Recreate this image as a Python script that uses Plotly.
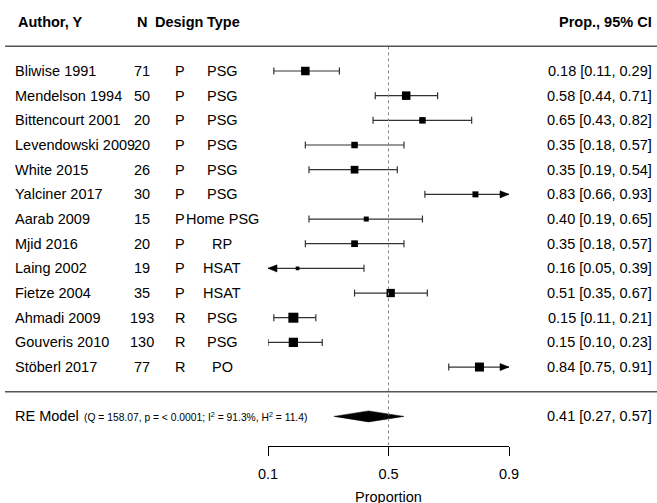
import numpy as np
import plotly.graph_objects as go

# ---------------- data ----------------
authors = ["Bliwise 1991", "Mendelson 1994", "Bittencourt 2001", "Levendowski 2009",
           "White 2015", "Yalciner 2017", "Aarab 2009", "Mjid 2016", "Laing 2002",
           "Fietze 2004", "Ahmadi 2009", "Gouveris 2010", "Stöberl 2017"]
n_sizes = [71, 50, 20, 20, 26, 30, 15, 20, 19, 35, 193, 130, 77]
designs = ["P"] * 10 + ["R"] * 3
types = ["PSG", "PSG", "PSG", "PSG", "PSG", "PSG", "Home PSG", "RP", "HSAT", "HSAT",
         "PSG", "PSG", "PO"]
est = [0.18, 0.58, 0.65, 0.35, 0.35, 0.83, 0.40, 0.35, 0.16, 0.51, 0.15, 0.15, 0.84]
ci_lo = [0.11, 0.44, 0.43, 0.18, 0.19, 0.66, 0.19, 0.18, 0.05, 0.35, 0.11, 0.10, 0.75]
ci_hi = [0.29, 0.71, 0.82, 0.57, 0.54, 0.93, 0.65, 0.57, 0.39, 0.67, 0.21, 0.23, 0.91]
re_est, re_lo, re_hi = 0.41, 0.27, 0.57
re_stats = "(Q = 158.07, p = < 0.0001; I<sup>2</sup> = 91.3%, H<sup>2</sup> = 11.4)"
tick_vals = [0.1, 0.5, 0.9]
tick_text = ["0.1", "0.5", "0.9"]

# ---------------- styles ----------------
marker_px = [8.5, 8.5, 6.5, 6.5, 7.7, 6, 5, 6.7, 3.7, 8.3, 10, 9.3, 9]
W, H = 657, 503
FONT = "Liberation Sans, Arial, Helvetica, sans-serif"
FS = 14.5


def logit(p):
    p = np.asarray(p, dtype=float)
    return np.log(p / (1 - p))


def px_x(px):
    return px / W


def px_y(py):
    return 1 - py / H


xmin, xmax = float(logit(tick_vals[0])), float(logit(tick_vals[-1]))
k = len(authors)
rows = [k - i for i in range(k)]          # 13 .. 1
row_px = 24.67
y_bottom = -2.2
y_top = k + 71 / row_px
y_range = [y_bottom, y_top]

x_dom = [px_x(268), px_x(509)]
y_dom = [px_y(446), 1.0]
px_per_x = (509 - 268) / (xmax - xmin)
cap_h = 3.5 / row_px
arr_len = 9 / px_per_x
arr_h = 3.6 / row_px

fig = go.Figure()

# CI lines, caps, arrows
lx, ly = [], []
arrows = []
for r, e, l, h in zip(rows, est, ci_lo, ci_hi):
    L, Hh = float(logit(l)), float(logit(h))
    left_arrow = L < xmin - 1e-9
    right_arrow = Hh > xmax + 1e-9
    L2 = max(L, xmin)
    H2 = min(Hh, xmax)
    lx += [L2, H2, None]
    ly += [r, r, None]
    if not left_arrow:
        lx += [L2, L2, None]
        ly += [r - cap_h, r + cap_h, None]
    else:
        arrows.append(([xmin, xmin + arr_len, xmin + arr_len, xmin],
                       [r, r + arr_h, r - arr_h, r]))
    if not right_arrow:
        lx += [H2, H2, None]
        ly += [r - cap_h, r + cap_h, None]
    else:
        arrows.append(([xmax, xmax - arr_len, xmax - arr_len, xmax],
                       [r, r + arr_h, r - arr_h, r]))

fig.add_trace(go.Scatter(x=lx, y=ly, mode="lines",
                         line=dict(color="#333333", width=1.2),
                         hoverinfo="skip", showlegend=False, cliponaxis=False))
for ax_, ay_ in arrows:
    fig.add_trace(go.Scatter(x=ax_, y=ay_, mode="lines", fill="toself",
                             fillcolor="black", line=dict(color="black", width=0.5),
                             hoverinfo="skip", showlegend=False, cliponaxis=False))

# squares
fig.add_trace(go.Scatter(x=logit(est), y=rows, mode="markers",
                         marker=dict(symbol="square", color="black", size=marker_px,
                                     opacity=1, line=dict(width=0)),
                         cliponaxis=False, showlegend=False))

# RE diamond
dh = 5.5 / row_px
fig.add_trace(go.Scatter(
    x=[float(logit(re_lo)), float(logit(re_est)), float(logit(re_hi)),
       float(logit(re_est)), float(logit(re_lo))],
    y=[-1, -1 + dh, -1, -1 - dh, -1],
    mode="lines", fill="toself", fillcolor="black",
    line=dict(color="black", width=0.5), hoverinfo="skip", showlegend=False))

# reference line (dotted) at 0.5
fig.add_trace(go.Scatter(x=[0, 0], y=[k + 1, y_range[0]], mode="lines",
                         line=dict(color="#888888", width=1, dash="dot"),
                         hoverinfo="skip", showlegend=False))

# separator lines
for yy in [k + 1, 0]:
    fig.add_shape(type="line", xref="paper", yref="y", x0=px_x(5), x1=1.0,
                  y0=yy, y1=yy, line=dict(color="#555555", width=1.5))

ann = []


def txt(x_px, y, s, anchor="left", bold=False, size=FS):
    ann.append(dict(x=px_x(x_px), xref="paper", y=y, yref="y",
                    text=(f"<b>{s}</b>" if bold else s),
                    showarrow=False, xanchor=anchor, yanchor="middle",
                    font=dict(family=FONT, size=size, color="black")))


# headers
hdr = k + 2
txt(16, hdr, "Author, Y", bold=True)
txt(142, hdr, "N", anchor="center", bold=True)
txt(179, hdr, "Design", anchor="center", bold=True)
txt(223, hdr, "Type", anchor="center", bold=True)
txt(654, hdr, "Prop., 95% CI", anchor="right", bold=True)

for r, a, nn, d, t, e, l, h in zip(rows, authors, n_sizes, designs, types, est, ci_lo, ci_hi):
    txt(13, r, a)
    txt(142, r, str(nn), anchor="center")
    txt(180, r, d, anchor="center")
    txt(222, r, t, anchor="center")
    txt(654, r, f"{e:.2f} [{l:.2f}, {h:.2f}]", anchor="right")

txt(13, -1, "RE Model")
txt(82, -1, re_stats, size=10.3)
txt(654, -1, f"{re_est:.2f} [{re_lo:.2f}, {re_hi:.2f}]", anchor="right")

ann.append(dict(x=0, xref="x", y=px_y(497), yref="paper", text="Proportion",
                showarrow=False, xanchor="center", yanchor="middle",
                font=dict(family=FONT, size=FS, color="black")))

fig.update_layout(
    width=W, height=H,
    margin=dict(l=0, r=0, t=0, b=0, autoexpand=False),
    paper_bgcolor="white", plot_bgcolor="white",
    annotations=ann,
    hovermode=False,
    xaxis=dict(domain=x_dom, range=[xmin, xmax], showgrid=False, zeroline=False,
               automargin=False,
               showline=True, linecolor="black", linewidth=1,
               ticks="outside", ticklen=9, tickwidth=1, tickcolor="black",
               ticklabelstandoff=6,
               tickvals=list(logit(tick_vals)), ticktext=tick_text,
               tickfont=dict(family=FONT, size=FS, color="black")),
    yaxis=dict(domain=y_dom, range=y_range, visible=False, automargin=False),
    showlegend=False,
)

post = ("document.documentElement.style.overflow='hidden';"
        "document.body.style.overflow='hidden';"
        "document.body.style.margin='0';document.body.style.padding='0';")
fig.write_html("out.html", post_script=post, config={"displayModeBar": False})
